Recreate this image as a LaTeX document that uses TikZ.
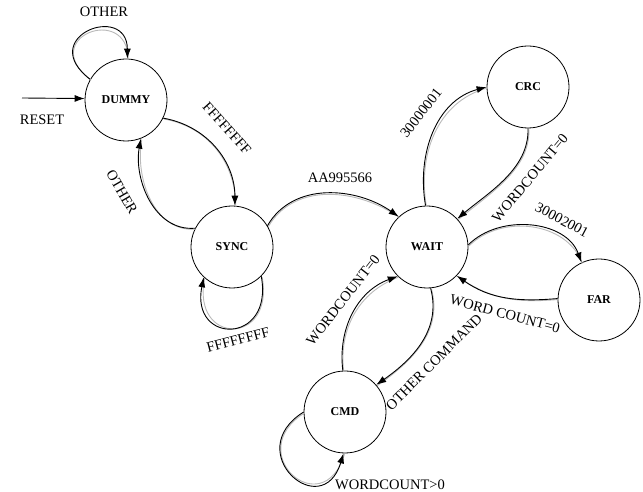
\documentclass[tikz,border=0pt]{standalone}
\usepackage{fontspec}
\setmainfont{Liberation Serif}
\usetikzlibrary{arrows.meta}
\begin{document}
\begin{tikzpicture}[x=1pt,y=1pt,
  state/.style={draw,circle,line width=0.8pt,minimum size=82pt,inner sep=0pt,font=\fontsize{12}{13}\selectfont\bfseries},
  edge/.style={line width=0.9pt,-{Latex[length=10pt,width=7pt]},
    preaction={draw=gray!55,line width=0.9pt,-,transform canvas={shift={(0.9pt,-0.9pt)}}}},
  lbl/.style={font=\fontsize{14.5}{15}\selectfont,inner sep=1pt}]
\useasboundingbox (0,0) rectangle (643,492);
\node[state] (dummy) at (126,392) {DUMMY};
\node[state] (sync) at (232,245) {SYNC};
\node[state] (wait) at (427,245) {WAIT};
\node[state] (crc) at (528,405) {CRC};
\node[state] (far) at (599,192) {FAR};
\node[state] (cmd) at (345,80) {CMD};
% reset
\coordinate (rs) at (22,394);
\draw[line width=0.9pt,-{Latex[length=10pt,width=7pt]}] (rs) -- (dummy.178);
\node[lbl] (lreset) at (42,372) {RESET};
% dummy loop
\draw[edge] (dummy.150) .. controls (35,455) and (127,490) .. (dummy.88);
\node[lbl] (lother1) at (104,480) {OTHER};
% dummy -> sync
\draw[edge] (dummy.-26) to[out=-10,in=90,looseness=1.0] (sync.86);
\node[lbl,rotate=-48] (lf1) at (227,364) {FFFFFFFF};
% sync -> dummy
\draw[edge] (sync.153) to[out=185,in=-100,looseness=1.0] (dummy.-69);
\node[lbl,rotate=-60] (lother2) at (122,300) {OTHER};
% sync loop
\draw[edge] (sync.-45) .. controls (274,147) and (190,147) .. (sync.-133);
\node[lbl,rotate=15] (lf2) at (238,152) {FFFFFFFF};
% sync -> wait
\draw[edge] (sync.31) to[out=60,in=145,looseness=1.0] (wait.133);
\node[lbl] (laa) at (340,314) {AA995566};
% wait -> crc
\draw[edge] (wait.92) to[out=100,in=195,looseness=1.0] (crc.180);
\node[lbl,rotate=52] (l3a) at (421,379) {30000001};
% crc -> wait
\draw[edge] (crc.-90) to[out=-88,in=40,looseness=0.9] (wait.43);
\node[lbl,rotate=50] (lwc1) at (530,314) {WORDCOUNT=0};
% wait -> far
\draw[edge] (wait.3) to[out=45,in=110,looseness=1.0] (far.115);
\node[lbl,rotate=-28] (l3b) at (562,272) {30002001};
% far -> wait
\draw[edge] (far.178) to[out=185,in=-35,looseness=1.0] (wait.-44);
\node[lbl,rotate=-15] (lwc2) at (505,178) {WORD COUNT=0};
% wait -> cmd
\draw[edge] (wait.-85) to[out=-75,in=35,looseness=1.0] (cmd.41);
\node[lbl,rotate=45] (loc) at (434,130) {OTHER COMMAND};
% cmd -> wait
\draw[edge] (cmd.93) to[out=97,in=200,looseness=1.0] (wait.-135);
\node[lbl,rotate=52] (lwc3) at (343,192) {WORDCOUNT=0};
% cmd loop
\draw[edge] (cmd.180) .. controls (240,40) and (322,-32) .. (cmd.-92);
\node[lbl] (lwc4) at (390,7) {WORDCOUNT>0};
\end{tikzpicture}
\end{document}
